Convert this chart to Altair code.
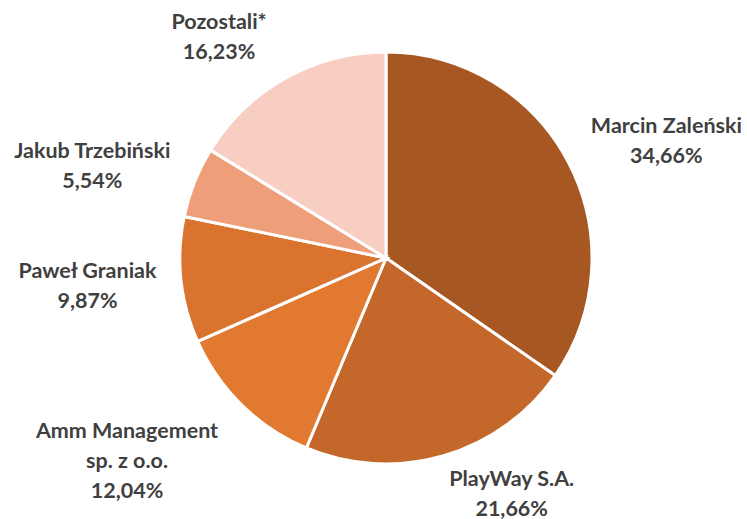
import altair as alt
import pandas as pd

names = ["Marcin Zaleński", "PlayWay S.A.", "Amm Management sp. z o.o.",
         "Paweł Graniak", "Jakub Trzebiński", "Pozostali*"]
label_names = ["Marcin Zaleński", "PlayWay S.A.", "Amm Management\nsp. z o.o.",
               "Paweł Graniak", "Jakub Trzebiński", "Pozostali*"]
shares = [34.66, 21.66, 12.04, 9.87, 5.54, 16.23]
colors = ["#A65722", "#C4672A", "#E17930", "#D9732E", "#EF9E7A", "#F8CEC2"]

# per-label nudges of the text block (first line) away from its mid-angle anchor
label_offsets = [(50, -10), (53, -28), (-77, -12), (-40, -14), (-52, -10), (-40, -8)]

df = pd.DataFrame({
    "name": names,
    "share": shares,
    "order": list(range(len(names))),
    "label": [n + "\n" + f"{v:.2f}".replace(".", ",") + "%"
              for n, v in zip(label_names, shares)],
})

theta_scale = alt.Scale(domain=[0, 100])

base = alt.Chart(df)

pie = base.mark_arc(outerRadius=206, stroke="white", strokeWidth=3).encode(
    theta=alt.Theta("share:Q", stack=True, scale=theta_scale),
    color=alt.Color("name:N", scale=alt.Scale(domain=names, range=colors), legend=None),
    order=alt.Order("order:Q"),
)

layers = [pie]
for name, (ox, oy) in zip(names, label_offsets):
    t = base.transform_window(
        cum="sum(share)", sort=[alt.SortField("order")]
    ).transform_calculate(
        mid="datum.cum - datum.share / 2"
    ).transform_filter(
        alt.datum.name == name
    ).mark_text(
        radius=260, dx=ox, dy=oy, font="Lato", fontWeight="bold", fontSize=21.5,
        lineHeight=30, lineBreak="\n", color="#404040", align="center", baseline="middle",
    ).encode(
        theta=alt.Theta("mid:Q", stack=False, scale=theta_scale),
        text="label:N",
    )
    layers.append(t)

chart = alt.layer(*layers).properties(
    width=722, height=516,
    padding={"left": 25, "top": 0, "right": 0, "bottom": 3},
    autosize="none",
).configure_view(stroke=None).configure(background="white")

chart.save("out.html", embed_options={"renderer": "svg", "actions": False})
